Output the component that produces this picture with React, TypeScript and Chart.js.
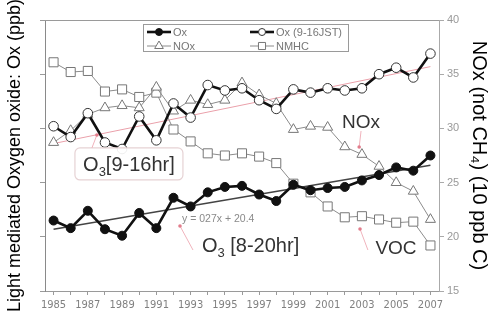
import React, { useEffect, useRef } from 'react';
import { Chart, registerables } from 'chart.js';

Chart.register(...registerables);

// ---------------- data ----------------
const years = ['1985', '1986', '1987', '1988', '1989', '1990', '1991', '1992', '1993', '1994', '1995', '1996',
  '1997', '1998', '1999', '2000', '2001', '2002', '2003', '2004', '2005', '2006', '2007'];
const ox820 = [21.5, 20.8, 22.4, 20.7, 20.1, 22.2, 20.8, 23.6, 22.8, 24.1, 24.6, 24.7, 23.9, 23.3, 24.8, 24.3, 24.5, 24.6, 25.2, 25.7, 26.4, 26.1, 27.5];
const ox916 = [30.2, 29.2, 31.4, 28.7, 28.1, 31.1, 28.9, 32.3, 31.0, 34.0, 33.5, 33.7, 32.6, 31.8, 33.6, 33.3, 33.7, 33.5, 33.7, 35.0, 35.6, 34.7, 36.9];
const nox = [28.7, 29.8, 31.3, 31.9, 32.1, 31.9, 33.8, 31.6, 32.6, 32.2, 32.6, 34.2, 33.1, 32.3, 29.9, 30.2, 30.1, 28.3, 27.6, 26.5, 25.0, 24.2, 21.6];
const nmhc = [36.1, 35.2, 35.3, 33.4, 33.6, 32.9, 33.3, 29.9, 28.8, 27.7, 27.5, 27.7, 27.4, 26.8, 24.9, 24.1, 22.8, 21.8, 21.9, 21.6, 21.3, 21.4, 19.2];
const trend820Ends = [20.7, 26.6];
const trend916Ends = [28.6, 35.7];
const yMin = 15;
const yMax = 40;
const yStep = 5;
const leftTitle = 'Light mediated Oxygen oxide: Ox (ppb)';
const rightTitle = 'NOx (not CH\u2084) (10 ppb C)';
const trendText = 'y = 027x + 20.4';

const FONT = 'Arial, "Liberation Sans", sans-serif';
const NARROW = '"Liberation Sans Narrow", "Arial Narrow", "DejaVu Sans Condensed", Arial, sans-serif';

const endsOnly = (ends: number[]) => years.map((_, i) => (i === 0 ? ends[0] : i === years.length - 1 ? ends[1] : null));

function drawMarker(ctx: CanvasRenderingContext2D, style: string, x: number, y: number, r: number, fill: string, stroke: string) {
  ctx.save();
  ctx.beginPath();
  if (style === 'circle') {
    ctx.arc(x, y, r, 0, Math.PI * 2);
  } else if (style === 'triangle') {
    ctx.moveTo(x, y - r);
    ctx.lineTo(x + r * 0.866, y + r * 0.5);
    ctx.lineTo(x - r * 0.866, y + r * 0.5);
    ctx.closePath();
  } else {
    const s = r * Math.SQRT1_2;
    ctx.rect(x - s, y - s, 2 * s, 2 * s);
  }
  ctx.fillStyle = fill;
  ctx.fill();
  ctx.lineWidth = 1;
  ctx.strokeStyle = stroke;
  ctx.stroke();
  ctx.restore();
}

function drawSubText(ctx: CanvasRenderingContext2D, parts: [string, boolean][], x: number, y: number, size: number, color: string) {
  let cx = x;
  ctx.save();
  ctx.fillStyle = color;
  ctx.textBaseline = 'alphabetic';
  ctx.textAlign = 'left';
  for (const [t, sub] of parts) {
    ctx.font = `${sub ? Math.round(size * 0.65) : size}px ${FONT}`;
    ctx.fillText(t, cx, sub ? y + size * 0.25 : y);
    cx += ctx.measureText(t).width;
  }
  ctx.restore();
}
function measureSub(ctx: CanvasRenderingContext2D, parts: [string, boolean][], size: number) {
  let w = 0;
  ctx.save();
  for (const [t, sub] of parts) {
    ctx.font = `${sub ? Math.round(size * 0.65) : size}px ${FONT}`;
    w += ctx.measureText(t).width;
  }
  ctx.restore();
  return w;
}

const framePlugin = {
  id: 'frame',
  beforeDatasetsDraw(chart: any) {
    const { ctx, chartArea: a } = chart;
    ctx.save();
    ctx.strokeStyle = '#9a9a9a';
    ctx.lineWidth = 1;
    ctx.beginPath();
    ctx.moveTo(a.left, a.top + 0.5);
    ctx.lineTo(a.right, a.top + 0.5);
    ctx.stroke();
    ctx.restore();
  },
};

const annotPlugin = {
  id: 'annot',
  afterDatasetsDraw(chart: any) {
    const { ctx, chartArea: a, scales } = chart;
    const x = scales.x;
    const y = scales.y;
    const px = (i: number) => x.getPixelForValue(i);
    const py = (v: number) => y.getPixelForValue(v);
    const pink = '#e27d8c';

    const leader = (i0: number, v0: number, i1: number, v1: number) => {
      ctx.save();
      ctx.strokeStyle = '#f0b3bc';
      ctx.lineWidth = 1;
      ctx.beginPath();
      ctx.moveTo(px(i0), py(v0));
      ctx.lineTo(px(i1), py(v1));
      ctx.stroke();
      ctx.fillStyle = pink;
      ctx.beginPath();
      ctx.arc(px(i1), py(v1), 1.8, 0, Math.PI * 2);
      ctx.fill();
      ctx.restore();
    };

    // O3[9-16hr] box
    const p916: [string, boolean][] = [['O', false], ['3', true], ['[9-16hr]', false]];
    const bx = px(4.4), by = py(26.72);
    const bw = 108, bh = 32;
    ctx.save();
    ctx.fillStyle = 'rgba(255,255,255,0.92)';
    ctx.strokeStyle = '#e6d2d4';
    ctx.lineWidth = 1.2;
    ctx.beginPath();
    (ctx as any).roundRect(bx - bw / 2, by - bh / 2, bw, bh, 5);
    ctx.fill();
    ctx.stroke();
    ctx.restore();
    leader(2.24, 28.2, 2.53, 29.39);
    const w916 = measureSub(ctx, p916, 20);
    drawSubText(ctx, p916, bx - w916 / 2, by + 7.5, 20, '#333');

    // NOx / VOC labels
    ctx.save();
    ctx.font = `19px ${FONT}`;
    ctx.fillStyle = '#333';
    ctx.textAlign = 'center';
    ctx.fillText('NOx', px(17.95), py(30.04));
    ctx.fillText('VOC', px(19.99), py(18.41));
    ctx.restore();
    leader(17.95, 29.76, 17.84, 28.28);
    leader(18.35, 18.78, 17.89, 20.72);

    // trend equation
    ctx.save();
    ctx.font = `10.5px ${FONT}`;
    ctx.fillStyle = '#8a8a8a';
    ctx.textAlign = 'left';
    ctx.fillText(trendText, px(7.5), py(21.37));
    ctx.restore();
    leader(8.14, 18.78, 7.38, 21.0);

    // O3 [8-20hr]
    drawSubText(ctx, [['O', false], ['3', true], [' [8-20hr]', false]], px(8.66), py(18.6), 20, '#333');

    // Legend box
    const L = a.left + 98, T = a.top + 4;
    ctx.save();
    ctx.strokeStyle = '#9a9a9a';
    ctx.lineWidth = 1;
    ctx.strokeRect(Math.round(L) + 0.5, Math.round(T) + 0.5, 205, 27);
    ctx.restore();
    const ds = chart.data.datasets.filter((d: any) => d.legendStyle);
    const slots = [
      [L + 4, T + 8], [L + 107, T + 8], [L + 4, T + 22], [L + 107, T + 22],
    ];
    ds.forEach((d: any, k: number) => {
      const [sx, sy] = slots[k];
      ctx.save();
      ctx.strokeStyle = d.borderColor;
      ctx.lineWidth = d.borderWidth;
      ctx.beginPath();
      ctx.moveTo(sx, sy);
      ctx.lineTo(sx + 24, sy);
      ctx.stroke();
      ctx.restore();
      drawMarker(ctx, d.legendStyle, sx + 12, sy, d.legendStyle === 'circle' ? 3.5 : 5, d.pointBackgroundColor, d.pointBorderColor);
      ctx.save();
      ctx.font = `11px ${FONT}`;
      ctx.fillStyle = '#777';
      ctx.textBaseline = 'middle';
      ctx.fillText(d.label, sx + 26, sy + 1);
      ctx.restore();
    });
  },
};

export default function App() {
  const ref = useRef<HTMLCanvasElement | null>(null);
  useEffect(() => {
    if (!ref.current) return;
    Chart.defaults.font.family = FONT;
    const chart = new Chart(ref.current, {
      type: 'line',
      data: {
        labels: years,
        datasets: [
          {
            label: 'Ox', data: ox820, yAxisID: 'y', borderColor: '#111', borderWidth: 2.6,
            pointStyle: 'circle', pointRadius: 4.5, pointBackgroundColor: '#111', pointBorderColor: '#111',
            pointBorderWidth: 1, legendStyle: 'circle', tension: 0,
          } as any,
          {
            label: 'Ox (9-16JST)', data: ox916, yAxisID: 'y', borderColor: '#111', borderWidth: 2.6,
            pointStyle: 'circle', pointRadius: 4.8, pointBackgroundColor: '#fff', pointBorderColor: '#333',
            pointBorderWidth: 1, legendStyle: 'circle', tension: 0,
          } as any,
          {
            label: 'NOx', data: nox, yAxisID: 'y', borderColor: '#8c8c8c', borderWidth: 1,
            pointStyle: 'triangle', pointRadius: 5.8, pointBackgroundColor: '#fff', pointBorderColor: '#777',
            pointBorderWidth: 1, legendStyle: 'triangle', tension: 0,
          } as any,
          {
            label: 'NMHC', data: nmhc, yAxisID: 'y', borderColor: '#8c8c8c', borderWidth: 1,
            pointStyle: 'rect', pointRadius: 6.4, pointBackgroundColor: '#fff', pointBorderColor: '#777',
            pointBorderWidth: 1, legendStyle: 'rect', tension: 0,
          } as any,
          {
            label: 'trend 8-20', data: endsOnly(trend820Ends), yAxisID: 'y', borderColor: '#444', borderWidth: 1.4,
            pointRadius: 0, spanGaps: true,
          } as any,
          {
            label: 'trend 9-16', data: endsOnly(trend916Ends), yAxisID: 'y', borderColor: '#eaa0aa', borderWidth: 1,
            pointRadius: 0, spanGaps: true,
          } as any,
        ],
      },
      options: {
        animation: false,
        responsive: true,
        maintainAspectRatio: false,
        layout: { padding: { top: 20, left: 0, right: 0, bottom: 0 } },
        plugins: { legend: { display: false }, tooltip: { enabled: false } },
        scales: {
          x: {
            type: 'category',
            offset: true,
            grid: { display: true, drawOnChartArea: false, drawTicks: true, tickLength: 4, color: '#9a9a9a' },
            border: { display: true, color: '#9a9a9a' },
            ticks: {
              autoSkip: false, maxRotation: 0, minRotation: 0, padding: 4, color: '#808080',
              font: { size: 11, family: NARROW },
              callback: (_v: any, i: number) => (i % 2 === 0 ? years[i] : ''),
            },
            afterFit: (s: any) => { s.height = 30; },
          },
          y: {
            position: 'left', min: yMin, max: yMax,
            grid: { display: true, drawOnChartArea: false, drawTicks: true, tickLength: 5, color: '#9a9a9a' },
            border: { display: true, color: '#8a8a8a' },
            ticks: { stepSize: yStep, callback: () => '', padding: 0 },
            title: { display: true, text: leftTitle, color: '#000', font: { size: 18, family: FONT }, padding: { top: 4, bottom: 0 } },
            afterFit: (s: any) => { s.width = 45; },
          },
          y2: {
            position: 'right', min: yMin, max: yMax,
            grid: { display: true, drawOnChartArea: false, drawTicks: true, tickLength: 5, color: '#aaa' },
            border: { display: true, color: '#aaa' },
            ticks: { stepSize: yStep, color: '#999', padding: 3, font: { size: 11, family: FONT } },
            title: { display: true, text: rightTitle, color: '#000', font: { size: 20, family: FONT, lineHeight: 1 }, padding: { top: 0, bottom: 0 } },
            afterFit: (s: any) => { s.width = 50; },
          },
        },
      } as any,
      plugins: [framePlugin, annotPlugin],
    });
    return () => chart.destroy();
  }, []);
  return (
    <div style={{ position: 'fixed', left: 0, top: 0, width: 489, height: 321, background: '#fff' }}>
      <canvas ref={ref} />
    </div>
  );
}
